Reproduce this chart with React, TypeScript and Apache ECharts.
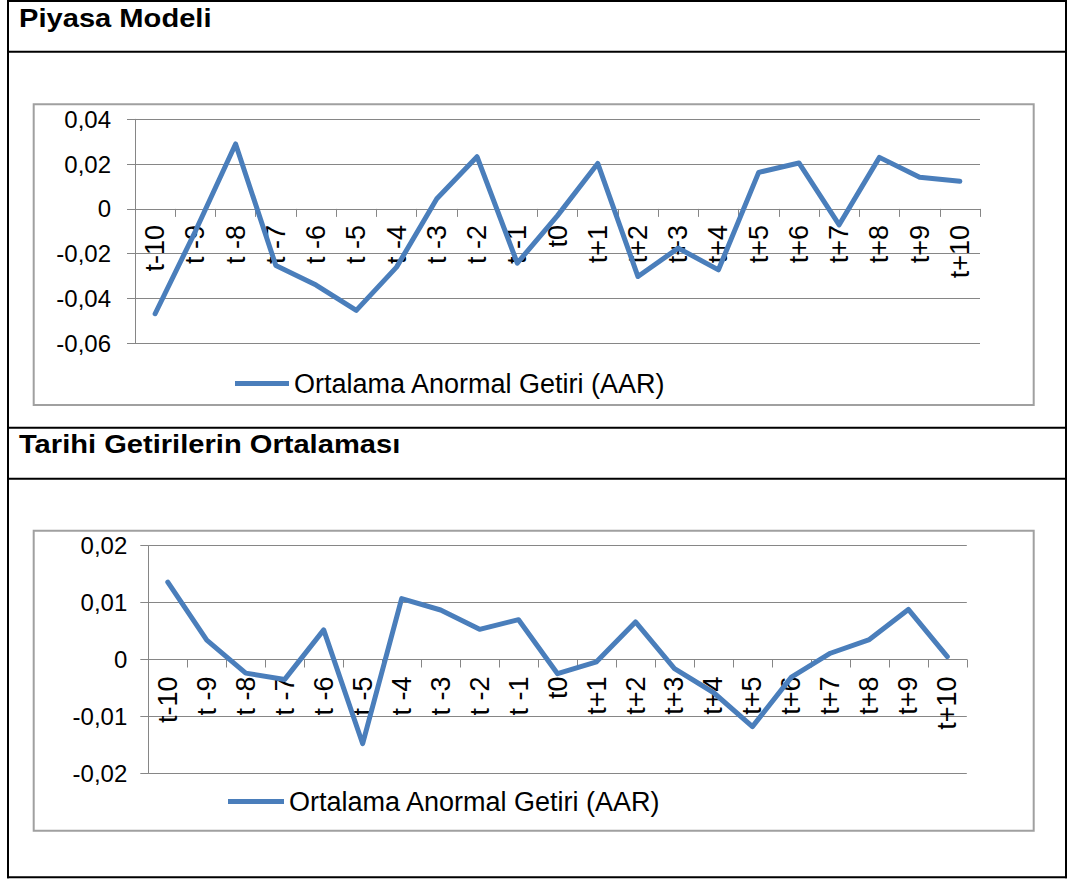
import React, { useEffect, useRef } from 'react';
import * as echarts from 'echarts';

const categories = [
  't-10', 't -9', 't -8', 't -7', 't -6', 't -5', 't -4', 't -3', 't -2', 't -1', 't0',
  't+1', 't+2', 't+3', 't+4', 't+5', 't+6', 't+7', 't+8', 't+9', 't+10',
];
const seriesName = 'Ortalama Anormal Getiri (AAR)';
const titles = ['Piyasa Modeli', 'Tarihi Getirilerin Ortalaması'];

// Piyasa Modeli - AAR
const piyasaValues = [
  -0.0468, -0.0100, 0.0290, -0.0253, -0.0340, -0.0453, -0.0260, 0.0045, 0.0233, -0.0242, -0.0030,
  0.0203, -0.0302, -0.0175, -0.0272, 0.0163, 0.0205, -0.0071, 0.0230, 0.0141, 0.0123,
];
// Tarihi Getirilerin Ortalaması - AAR
const tarihiValues = [
  0.0136, 0.0034, -0.0024, -0.0035, 0.0052, -0.0148, 0.0107, 0.0087, 0.0053, 0.0070, -0.0025,
  -0.0004, 0.0066, -0.0016, -0.0058, -0.0118, -0.0031, 0.0011, 0.0035, 0.0088, 0.0005,
];
// y axis ranges [min, max, interval]
const yRange1 = [-0.06, 0.04, 0.02];
const yRange2 = [-0.02, 0.02, 0.01];

const FONT = '"Liberation Sans", Arial, sans-serif';
const LINE_COLOR = '#4A7EBB';
const GRID_COLOR = '#868686';
const BOX_COLOR = '#a0a0a0';

const fmt = (v: number) => (Math.abs(v) < 1e-9 ? '0' : v.toFixed(2).replace('.', ','));

const grid1 = { left: 135, top: 119.3, width: 845, height: 224 };
const grid2 = { left: 148.3, top: 545.7, width: 818.5, height: 227.6 };

// place the category axis at value 0 (Excel "axis crosses at 0")
const zeroOffset = (h: number, r: number[]) => -h * (0 - r[0]) / (r[1] - r[0]);

export default function App() {
  const ref = useRef<HTMLDivElement>(null);
  useEffect(() => {
    if (!ref.current) return;
    const chart = echarts.init(ref.current, undefined, { renderer: 'svg' });

    const xAxisBase = (gridIndex: number, margin: number, offset: number) => ({
      type: 'category',
      gridIndex,
      position: 'bottom',
      offset,
      data: categories,
      boundaryGap: true,
      axisLine: { show: true, onZero: false, lineStyle: { color: GRID_COLOR, width: 1 } },
      axisTick: { show: true, length: 8, inside: false, lineStyle: { color: GRID_COLOR, width: 1 } },
      axisLabel: { interval: 0, rotate: 90, margin, fontSize: 27, color: '#000', fontFamily: FONT },
      splitLine: { show: false },
    });
    const yAxisBase = (gridIndex: number, r: number[], margin: number) => ({
      type: 'value',
      gridIndex,
      min: r[0],
      max: r[1],
      interval: r[2],
      axisLine: { show: true, lineStyle: { color: GRID_COLOR, width: 1 } },
      axisTick: { show: true, length: 8, lineStyle: { color: GRID_COLOR, width: 1 } },
      axisLabel: { margin, fontSize: 24, color: '#000', fontFamily: FONT, formatter: fmt },
      splitLine: { show: true, lineStyle: { color: GRID_COLOR, width: 1 } },
    });
    const legendBase = (left: number, top: number, itemWidth: number) => ({
      data: [seriesName],
      left,
      top,
      padding: 0,
      itemWidth,
      itemHeight: 5,
      icon: 'rect',
      selectedMode: false,
      textStyle: { fontSize: 27, lineHeight: 27, color: '#000', fontFamily: FONT },
    });

    const hLine = (y: number) => ({
      type: 'line', silent: true, z: 10,
      shape: { x1: 7, y1: y, x2: 1067, y2: y },
      style: { stroke: '#000', lineWidth: 2 },
    });
    const vLine = (x: number) => ({
      type: 'line', silent: true, z: 10,
      shape: { x1: x, y1: 0, x2: x, y2: 878.3 },
      style: { stroke: '#000', lineWidth: 2 },
    });
    const box = (y: number, h: number) => ({
      type: 'rect', silent: true, z: 0,
      shape: { x: 33.7, y, width: 1000, height: h },
      style: { fill: 'none', stroke: BOX_COLOR, lineWidth: 2 },
    });
    const title = (text: string, y: number) => ({
      type: 'text', silent: true, z: 10,
      x: 19, y, scaleX: 1.12,
      style: { text, fontSize: 26, fontWeight: 'bold', fontFamily: FONT, fill: '#000', verticalAlign: 'middle' },
    });

    chart.setOption({
      animation: false,
      backgroundColor: '#fff',
      textStyle: { fontFamily: FONT },
      grid: [
        { ...grid1, containLabel: false },
        { ...grid2, containLabel: false },
      ],
      xAxis: [
        xAxisBase(0, 16, zeroOffset(grid1.height, yRange1)),
        xAxisBase(1, 17, zeroOffset(grid2.height, yRange2)),
      ],
      yAxis: [yAxisBase(0, yRange1, 24), yAxisBase(1, yRange2, 21)],
      legend: [legendBase(235, 370, 54), legendBase(228, 788, 56)],
      series: [
        {
          name: seriesName, type: 'line', xAxisIndex: 0, yAxisIndex: 0,
          data: piyasaValues, symbol: 'none', smooth: false,
          lineStyle: { color: LINE_COLOR, width: 5, join: 'round', cap: 'round' },
          itemStyle: { color: LINE_COLOR },
        },
        {
          name: seriesName, type: 'line', xAxisIndex: 1, yAxisIndex: 1,
          data: tarihiValues, symbol: 'none', smooth: false,
          lineStyle: { color: LINE_COLOR, width: 5, join: 'round', cap: 'round' },
          itemStyle: { color: LINE_COLOR },
        },
      ],
      graphic: [
        box(104.3, 300.7),
        box(530.7, 300),
        vLine(8),
        vLine(1066),
        hLine(1),
        hLine(51.7),
        hLine(427.7),
        hLine(478.7),
        hLine(877.3),
        title(titles[0], 18.5),
        title(titles[1], 444),
      ],
    });
    return () => chart.dispose();
  }, []);

  return (
    <div
      ref={ref}
      style={{ position: 'absolute', left: 0, top: 0, width: 1070, height: 879, background: '#fff' }}
    />
  );
}
